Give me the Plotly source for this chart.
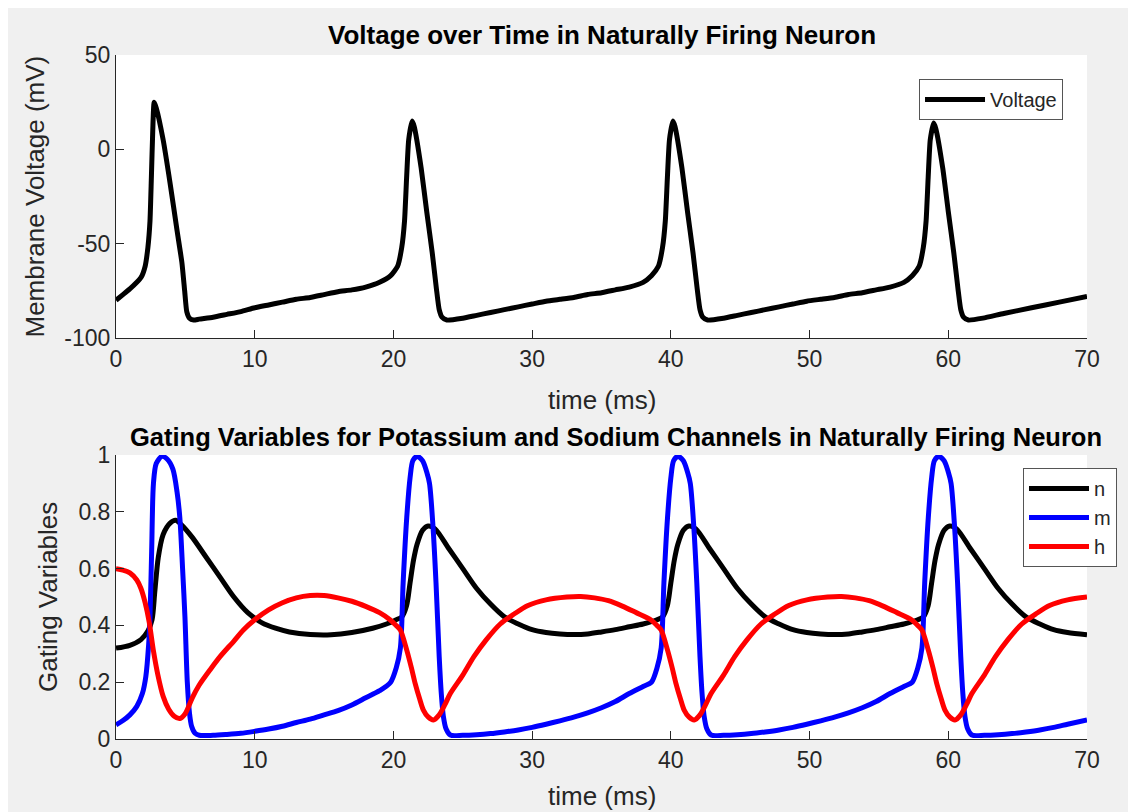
import plotly.graph_objects as go

# --- membrane voltage (ms, mV) ---
t_v = [0, 0.5, 1.0, 1.5, 1.8, 2.1, 2.3, 2.45, 2.55, 2.65, 2.75, 2.9, 3.4, 3.9, 4.4, 4.75, 4.95, 5.1, 5.3, 5.6,
       6, 7, 8, 9, 10, 11, 12, 13, 14, 15, 16, 17, 18, 19, 19.8, 20.3, 20.6, 20.8, 20.95, 21.1, 21.35,
       21.5, 22.0, 22.4, 22.8, 23.1, 23.3, 23.5, 23.85,
       25, 26, 27, 28, 29, 30, 31, 32, 33, 34, 35, 36, 37, 38, 38.6, 39.1, 39.4, 39.6, 39.75, 39.9, 40.15,
       40.3, 40.8, 41.2, 41.6, 41.9, 42.1, 42.3, 42.65,
       43.8, 44.8, 45.8, 46.8, 47.8, 48.8, 49.8, 50.8, 51.8, 52.8, 53.8, 54.8, 55.8, 56.8, 57.4, 57.9, 58.2, 58.4, 58.55, 58.7, 58.95,
       59.1, 59.6, 60.0, 60.4, 60.7, 60.9, 61.1, 61.45,
       62.5, 64, 66, 68, 70]
voltage = [-80, -77, -74, -70.5, -68, -62, -52, -38, -15, 10, 25, 22, 5, -18, -43, -60, -75, -86, -89.5, -90.5,
           -90, -89, -87.5, -86, -84, -82.5, -81, -79.5, -78.5, -77, -75.5, -74.5, -73, -70.5, -67, -62, -52, -38, -15, 5, 15,
           12, -10, -33, -55, -74, -85, -89, -90.5,
           -89.5, -88, -86.5, -85, -83.5, -82, -80.5, -79.5, -78.5, -77, -76, -74.5, -73, -70.5, -67, -62, -52, -38, -15, 5, 15,
           12, -10, -33, -55, -74, -85, -89, -90.5,
           -89.5, -88, -86.5, -85, -83.5, -82, -80.5, -79.5, -78.5, -77, -76, -74.5, -73, -70.5, -67, -62, -52, -38, -15, 5, 14,
           11, -10, -33, -55, -74, -85, -89, -90.5,
           -89.5, -87, -84, -81, -78]

# --- gating variable n ---
t_n = [0, 1, 1.8, 2.3, 2.6, 2.8, 3.05, 3.4, 3.9, 4.3, 4.7, 5.5, 6.5, 7.5, 8.5, 9.5, 10.5, 11.5, 12.5, 14, 15.5,
       17, 18.5, 19.5, 20.2, 20.6, 20.95, 21.2, 21.45, 21.7, 22.1, 22.5,
       23.0, 24, 25, 26, 27, 28, 29, 30, 31, 32, 33, 34, 35, 36, 37, 38, 39.0, 39.4, 39.75, 40.0, 40.25, 40.5, 40.9, 41.3,
       41.8, 42.8, 43.8, 44.8, 45.8, 46.8, 47.8, 48.8, 49.8, 50.8, 51.8, 52.8, 53.8, 54.8, 55.8, 56.8, 57.8, 58.2, 58.55,
       58.8, 59.05, 59.3, 59.7, 60.1,
       60.6, 61.6, 62.6, 63.6, 64.6, 65.6, 66.6, 67.6, 68.6, 70]
n_gate = [0.32, 0.33, 0.35, 0.38, 0.42, 0.52, 0.64, 0.72, 0.76, 0.77, 0.755, 0.71, 0.64, 0.57, 0.5, 0.445, 0.41, 0.39, 0.377, 0.368, 0.367,
          0.375, 0.39, 0.405, 0.42, 0.43, 0.47, 0.55, 0.63, 0.685, 0.735, 0.75,
          0.74, 0.67, 0.6, 0.53, 0.475, 0.43, 0.405, 0.385, 0.375, 0.37, 0.368, 0.37, 0.377, 0.385, 0.395, 0.405, 0.42, 0.43, 0.47, 0.55, 0.63, 0.685, 0.735, 0.75,
          0.74, 0.67, 0.6, 0.53, 0.475, 0.43, 0.405, 0.385, 0.375, 0.37, 0.368, 0.37, 0.377, 0.385, 0.395, 0.405, 0.42, 0.43, 0.47,
          0.55, 0.63, 0.685, 0.735, 0.75,
          0.74, 0.67, 0.6, 0.53, 0.475, 0.43, 0.405, 0.385, 0.375, 0.367]

# --- gating variable m ---
t_m = [0, 0.5, 1.0, 1.5, 1.9, 2.15, 2.35, 2.45, 2.57, 2.7, 2.9, 3.3, 3.7, 4.1, 4.4, 4.6, 4.8, 4.97, 5.14, 5.3, 5.45, 5.7,
       6, 7, 8, 9, 10, 11, 12, 13, 14, 15, 16, 17, 18, 19, 19.8, 20.2, 20.5, 20.7, 20.96, 21.2, 21.4, 21.7, 22.1, 22.4,
       22.6, 22.85, 23.07, 23.3, 23.45, 23.6, 23.8, 24.1,
       25, 26, 27, 28, 29, 30, 31, 32, 33, 34, 35, 36, 37, 38, 38.6, 39.0, 39.3, 39.5, 39.76, 40.0, 40.2, 40.5, 40.9, 41.2,
       41.4, 41.65, 41.87, 42.1, 42.25, 42.4, 42.6, 42.9,
       43.8, 44.8, 45.8, 46.8, 47.8, 48.8, 49.8, 50.8, 51.8, 52.8, 53.8, 54.8, 55.8, 56.8, 57.4, 57.8, 58.1, 58.3, 58.56,
       58.8, 59.0, 59.3, 59.7, 60.0, 60.2, 60.45, 60.67, 60.9, 61.05, 61.2, 61.4, 61.7,
       62.6, 63.6, 64.6, 65.6, 66.6, 67.6, 68.6, 70]
m_gate = [0.05, 0.065, 0.085, 0.115, 0.16, 0.22, 0.33, 0.43, 0.66, 0.9, 0.97, 0.995, 0.985, 0.95, 0.87, 0.78, 0.6, 0.43, 0.2, 0.09, 0.045, 0.02,
          0.013, 0.013, 0.016, 0.02, 0.027, 0.035, 0.045, 0.058, 0.07, 0.085, 0.1, 0.12, 0.145, 0.17, 0.2, 0.25, 0.32, 0.55, 0.78, 0.92, 0.98, 0.995, 0.98, 0.94,
          0.9, 0.75, 0.55, 0.29, 0.16, 0.08, 0.035, 0.014,
          0.013, 0.015, 0.019, 0.025, 0.032, 0.041, 0.052, 0.064, 0.077, 0.092, 0.11, 0.132, 0.16, 0.185, 0.2, 0.25, 0.32, 0.55, 0.78, 0.92, 0.98, 0.995, 0.98, 0.94,
          0.9, 0.75, 0.55, 0.29, 0.16, 0.08, 0.035, 0.014,
          0.013, 0.015, 0.019, 0.025, 0.032, 0.041, 0.052, 0.064, 0.077, 0.092, 0.11, 0.132, 0.16, 0.185, 0.2, 0.25, 0.32, 0.55, 0.78,
          0.92, 0.98, 0.995, 0.98, 0.94, 0.9, 0.75, 0.55, 0.29, 0.16, 0.08, 0.035, 0.014,
          0.013, 0.015, 0.019, 0.025, 0.032, 0.041, 0.052, 0.067]

# --- gating variable h ---
t_h = [0, 0.5, 1.0, 1.5, 1.8, 2.1, 2.4, 2.7, 3.0, 3.4, 3.8, 4.2, 4.6, 5.0, 5.5, 6.0, 6.8, 7.5, 8.5, 9.2, 10, 11, 12, 13, 14, 15,
       16, 17, 18, 19, 19.75, 20.2, 20.5, 20.96, 21.3, 21.56, 21.9, 22.16, 22.5, 22.88,
       23.3, 23.7, 24.1, 25, 25.8, 26.7, 27.7, 28.7, 29.7, 31, 32.5, 33.5, 34.5, 35.5, 36.5, 37.5, 38.55, 39.0, 39.3, 39.76,
       40.1, 40.36, 40.7, 40.96, 41.3, 41.68,
       42.1, 42.5, 42.9, 43.8, 44.6, 45.5, 46.5, 47.5, 48.5, 49.8, 51.3, 52.3, 53.3, 54.3, 55.3, 56.3, 57.35, 57.8, 58.1, 58.56,
       58.9, 59.16, 59.5, 59.76, 60.1, 60.48,
       60.9, 61.3, 61.7, 62.6, 63.4, 64.3, 65.3, 66.3, 67.3, 68.6, 70]
h_gate = [0.6, 0.595, 0.585, 0.56, 0.53, 0.48, 0.41, 0.31, 0.23, 0.15, 0.105, 0.08, 0.072, 0.09, 0.145, 0.19, 0.245, 0.29, 0.345, 0.385, 0.42, 0.455, 0.48, 0.497, 0.505, 0.505,
          0.497, 0.485, 0.467, 0.445, 0.42, 0.4, 0.384, 0.313, 0.25, 0.197, 0.14, 0.102, 0.078, 0.067,
          0.085, 0.12, 0.16, 0.225, 0.29, 0.35, 0.405, 0.44, 0.47, 0.49, 0.5, 0.502, 0.497, 0.487, 0.468, 0.445, 0.42, 0.4, 0.384, 0.313,
          0.25, 0.197, 0.14, 0.102, 0.078, 0.067,
          0.085, 0.12, 0.16, 0.225, 0.29, 0.35, 0.405, 0.44, 0.47, 0.49, 0.5, 0.502, 0.497, 0.487, 0.468, 0.445, 0.42, 0.4, 0.384, 0.313,
          0.25, 0.197, 0.14, 0.102, 0.078, 0.067,
          0.085, 0.12, 0.16, 0.225, 0.29, 0.35, 0.405, 0.44, 0.47, 0.49, 0.5]

v_ticks = [-100, -50, 0, 50]
v_ticktext = ["-100", "-50", "0", "50"]
g_ticks = [0, 0.2, 0.4, 0.6, 0.8, 1]
g_ticktext = ["0", "0.2", "0.4", "0.6", "0.8", "1"]

FONT = "Liberation Sans, Arial, Helvetica, sans-serif"
AX = "#262626"
LW = 5

fig = go.Figure()
fig.add_trace(go.Scatter(x=t_v, y=voltage, mode="lines", name="Voltage", showlegend=True,
                         line=dict(color="black", width=LW, shape="spline", smoothing=0.5),
                         xaxis="x", yaxis="y", legend="legend"))
fig.add_trace(go.Scatter(x=t_n, y=n_gate, mode="lines", name="n",
                         line=dict(color="black", width=LW, shape="spline", smoothing=0.8),
                         xaxis="x2", yaxis="y2", legend="legend2"))
fig.add_trace(go.Scatter(x=t_m, y=m_gate, mode="lines", name="m",
                         line=dict(color="#0000FF", width=LW, shape="spline", smoothing=0.8),
                         xaxis="x2", yaxis="y2", legend="legend2"))
fig.add_trace(go.Scatter(x=t_h, y=h_gate, mode="lines", name="h",
                         line=dict(color="#FF0000", width=LW, shape="spline", smoothing=0.8),
                         xaxis="x2", yaxis="y2", legend="legend2"))

axis_style = dict(showline=True, linecolor=AX, linewidth=1, mirror=False, ticks="inside",
                  ticklen=8, tickcolor=AX, showgrid=False, zeroline=False,
                  tickfont=dict(family=FONT, size=23, color=AX))

legend_style = dict(xanchor="right", yanchor="top", bgcolor="white",
                    bordercolor="#555555", borderwidth=1, font=dict(family=FONT, size=20, color=AX),
                    itemwidth=60, tracegroupgap=0)

fig.update_layout(
    width=1136, height=812,
    margin=dict(l=108, r=57, t=47, b=81),
    paper_bgcolor="#F0F0F0", plot_bgcolor="white",
    showlegend=True,
    font=dict(family=FONT, color=AX),
    xaxis=dict(domain=[0, 1], range=[0, 70], dtick=10, anchor="y", **axis_style),
    yaxis=dict(domain=[0.5863, 1], range=[-100, 50], tickvals=v_ticks, ticktext=v_ticktext,
               anchor="x", **axis_style),
    xaxis2=dict(domain=[0, 1], range=[0, 70], dtick=10, anchor="y2", **axis_style),
    yaxis2=dict(domain=[0, 0.4152], range=[0, 1], tickvals=g_ticks, ticktext=g_ticktext,
                anchor="x2", **axis_style),
    legend=dict(x=0.9753, y=0.9649, **legend_style),
    legend2=dict(x=1.0309, y=0.3962, **legend_style),
    annotations=[
        dict(text="<b>Voltage over Time in Naturally Firing Neuron</b>", xref="paper", yref="paper",
             x=0.5, y=1.0, yshift=20, xanchor="center", yanchor="middle", showarrow=False,
             font=dict(family=FONT, size=26, color="black")),
        dict(text="time (ms)", xref="paper", yref="paper", x=0.5, y=0.5863, yshift=-62,
             xanchor="center", yanchor="middle", showarrow=False,
             font=dict(family=FONT, size=26, color=AX)),
        dict(text="Membrane Voltage (mV)", xref="paper", yref="paper", x=0, xshift=-81, y=0.7931,
             xanchor="center", yanchor="middle", textangle=-90, showarrow=False,
             font=dict(family=FONT, size=26, color=AX)),
        dict(text="<b>Gating Variables for Potassium and Sodium Channels in Naturally Firing Neuron</b>",
             xref="paper", yref="paper", x=0.5, xshift=14, y=0.4152, yshift=18,
             xanchor="center", yanchor="middle",
             showarrow=False, font=dict(family=FONT, size=25.5, color="black")),
        dict(text="time (ms)", xref="paper", yref="paper", x=0.5, y=0, yshift=-57,
             xanchor="center", yanchor="middle", showarrow=False,
             font=dict(family=FONT, size=26, color=AX)),
        dict(text="Gating Variables", xref="paper", yref="paper", x=0, xshift=-68, y=0.2076,
             xanchor="center", yanchor="middle", textangle=-90, showarrow=False,
             font=dict(family=FONT, size=26, color=AX)),
    ],
)

fig.write_html("out.html")
